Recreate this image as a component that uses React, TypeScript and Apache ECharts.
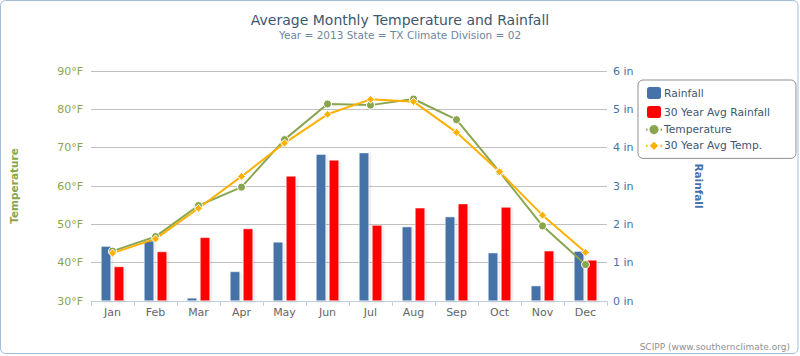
import React, { useEffect, useRef } from "react";
import * as echarts from "echarts";

const months = ["Jan", "Feb", "Mar", "Apr", "May", "Jun", "Jul", "Aug", "Sep", "Oct", "Nov", "Dec"];
const rainfall = [1.43, 1.57, 0.08, 0.77, 1.54, 3.83, 3.87, 1.94, 2.2, 1.26, 0.4, 1.3];
const avgRainfall = [0.9, 1.29, 1.66, 1.89, 3.26, 3.68, 1.98, 2.43, 2.54, 2.45, 1.31, 1.07];
const temperature = [43.0, 46.8, 54.9, 59.7, 72.1, 81.4, 81.1, 82.7, 77.3, 63.7, 49.6, 39.5];
const avgTemperature = [42.5, 46.2, 54.2, 62.5, 71.2, 78.7, 82.6, 82.0, 74.0, 63.7, 52.4, 42.7];

const FONT = "DejaVu Sans";

export default function App() {
  const ref = useRef<HTMLDivElement>(null);
  useEffect(() => {
    if (!ref.current) return;
    const chart = echarts.init(ref.current, undefined, { renderer: "svg" });
    const barShadow = {
      shadowColor: "rgba(0,0,0,0.18)",
      shadowBlur: 2,
      shadowOffsetX: 1,
      shadowOffsetY: 1,
    };
    chart.setOption({
      animation: false,
      textStyle: { fontFamily: FONT },
      title: {
        text: "Average Monthly Temperature and Rainfall",
        subtext: "Year = 2013 State = TX Climate Division = 02",
        left: "center",
        top: 8,
        itemGap: 2,
        textStyle: { fontFamily: FONT, fontSize: 14, fontWeight: "normal", color: "#3E576F" },
        subtextStyle: { fontFamily: FONT, fontSize: 10.5, color: "#6D869F" },
      },
      legend: {
        orient: "vertical",
        left: 638,
        top: 80,
        padding: [5, 26, 6, 7],
        itemGap: 3,
        itemWidth: 16,
        itemHeight: 14,
        borderColor: "#909090",
        borderWidth: 1,
        borderRadius: 5,
        textStyle: { fontFamily: FONT, fontSize: 10.7, color: "#3E576F", padding: [0, 0, 0, -3] },
        data: [
          { name: "Rainfall", icon: "roundRect" },
          { name: "30 Year Avg Rainfall", icon: "roundRect" },
          { name: "Temperature" },
          { name: "30 Year Avg Temp." },
        ],
      },
      grid: { left: 89, right: 193, top: 71, bottom: 55 },
      xAxis: {
        type: "category",
        data: months,
        axisLine: { lineStyle: { color: "#C0D0E0" } },
        axisTick: { show: true, length: 5, lineStyle: { color: "#C0D0E0" } },
        axisLabel: { color: "#666666", fontSize: 11, fontFamily: FONT, margin: 6 },
      },
      yAxis: [
        {
          type: "value",
          min: 30,
          max: 90,
          interval: 10,
          name: "Temperature",
          nameLocation: "middle",
          nameRotate: 90,
          nameGap: 72,
          nameTextStyle: { color: "#89A54E", fontWeight: "bold", fontSize: 10.5, fontFamily: FONT },
          axisLine: { show: false },
          axisTick: { show: false },
          axisLabel: { formatter: "{value}°F", color: "#89A54E", fontSize: 11, fontFamily: FONT, margin: 8 },
          splitLine: { lineStyle: { color: "#C0C0C0" } },
        },
        {
          type: "value",
          min: 0,
          max: 6,
          interval: 1,
          position: "right",
          name: "Rainfall",
          nameLocation: "middle",
          nameRotate: -90,
          nameGap: 86,
          nameTextStyle: { color: "#4572A7", fontWeight: "bold", fontSize: 10.5, fontFamily: FONT },
          axisLine: { show: false },
          axisTick: { show: false },
          axisLabel: { formatter: "{value} in", color: "#4572A7", fontSize: 11, fontFamily: FONT, margin: 6 },
          splitLine: { show: false },
        },
      ],
      series: [
        {
          name: "Rainfall",
          type: "bar",
          yAxisIndex: 1,
          data: rainfall,
          barWidth: 10,
          barGap: "30%",
          itemStyle: { color: "#4572A7", borderColor: "#FFFFFF", borderWidth: 0.5, ...barShadow },
        },
        {
          name: "30 Year Avg Rainfall",
          type: "bar",
          yAxisIndex: 1,
          data: avgRainfall,
          barWidth: 10,
          itemStyle: { color: "#FF0000", borderColor: "#FFFFFF", borderWidth: 0.5, ...barShadow },
        },
        {
          name: "Temperature",
          type: "line",
          yAxisIndex: 0,
          data: temperature,
          symbol: "circle",
          symbolSize: 8,
          lineStyle: { color: "#89A54E", width: 2 },
          itemStyle: { color: "#89A54E", borderColor: "#FFFFFF", borderWidth: 1 },
        },
        {
          name: "30 Year Avg Temp.",
          type: "line",
          yAxisIndex: 0,
          data: avgTemperature,
          symbol: "diamond",
          symbolSize: 8,
          lineStyle: { color: "#FFB000", width: 2 },
          itemStyle: { color: "#FFB000", borderColor: "#FFFFFF", borderWidth: 1 },
        },
      ],
      graphic: [
        {
          type: "rect",
          shape: { x: 0.5, y: 0.5, width: 797.5, height: 353, r: 5 },
          style: { fill: "none", stroke: "#A3BDDD", lineWidth: 1 },
          silent: true,
        },
        {
          type: "text",
          right: 10,
          bottom: 5,
          style: { text: "SCIPP (www.southernclimate.org)", fill: "#909090", fontSize: 9, fontFamily: FONT },
        },
      ],
    });
    return () => chart.dispose();
  }, []);
  return (
    <div
      ref={ref}
      style={{ position: "absolute", left: 0, top: 0, width: 800, height: 356, background: "#FFFFFF" }}
    />
  );
}
